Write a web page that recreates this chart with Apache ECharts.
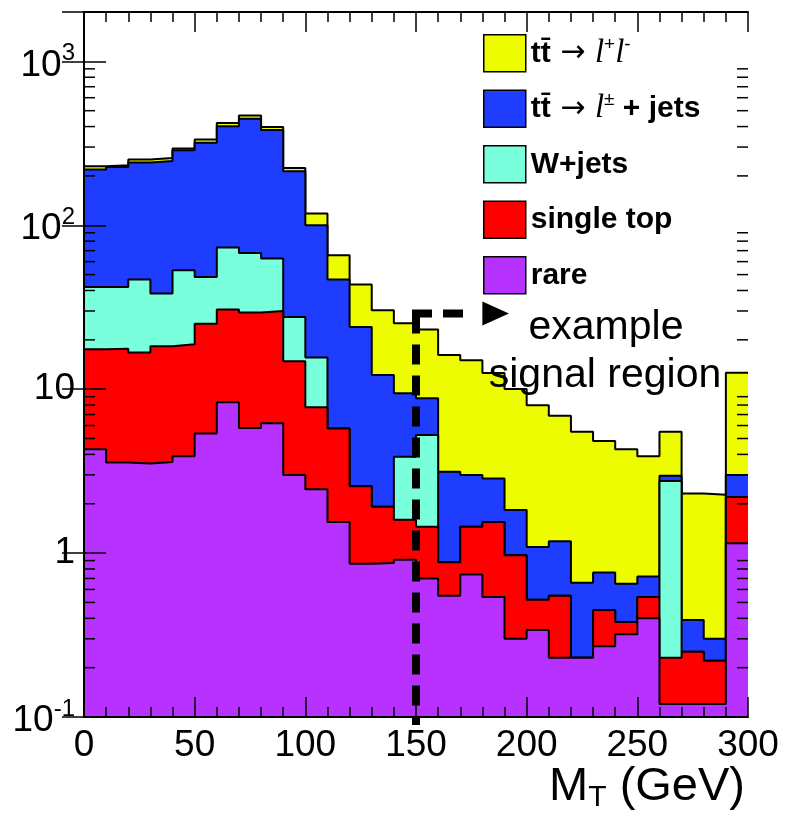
<!DOCTYPE html>
<html>
<head>
<meta charset="utf-8">
<script src="https://cdn.jsdelivr.net/npm/echarts@6/dist/echarts.min.js"></script>
<style>
  html, body { margin: 0; padding: 0; background: #fff; }
  #chart { width: 785px; height: 815px; }
</style>
</head>
<body>
<div id="chart"></div>
<script>
// Transverse mass M_T, 10 GeV bins from 0 to 300 GeV (lower bin edges)
const binLow = [0, 10, 20, 30, 40, 50, 60, 70, 80, 90,
                100, 110, 120, 130, 140, 150, 160, 170, 180, 190,
                200, 210, 220, 230, 240, 250, 260, 270, 280, 290];
const binUpper = 300;

// Expected events per bin for each process
const rare      = [4.3, 3.57, 3.52, 3.6, 3.9, 5.37, 8.33, 5.8, 6.2, 2.99,
                   2.45, 1.55, 0.86, 0.87, 0.91, 0.70, 0.55, 0.74, 0.54, 0.30,
                   0.34, 0.23, 0.23, 0.27, 0.32, 0.40, 0.12, 0.12, 0.12, 1.15];
const singleTop = [13.2, 14.1, 13.2, 14.7, 14.9, 19.7, 22.3, 23.6, 23.8, 11.8,
                   5.3, 4.21, 1.70, 1.05, 0.69, 0.75, 0.33, 0.71, 1.01, 0.67,
                   0.18, 0.32, 0, 0.18, 0.06, 0.14, 0.11, 0.13, 0.10, 1.05];
const wJets     = [24.5, 24.3, 30.0, 20.0, 34.4, 23.3, 42.5, 38.4, 32.7, 12.8,
                   7.85, 0, 0, 0, 2.27, 3.8, 0, 0, 0, 0,
                   0, 0, 0, 0, 0, 0, 2.52, 0, 0, 0];
const ttSemiLep = [177, 185, 195, 208, 234, 270, 329, 379, 319, 186,
                   84.4, 40.9, 21.4, 10.3, 5.58, 3.55, 2.26, 1.54, 1.30, 0.86,
                   0.57, 0.63, 0.43, 0.31, 0.27, 0.18, 0.21, 0.14, 0.08, 0.79];
const ttDiLep   = [10, 5, 10, 11, 7, 15, 19, 21, 16, 10,
                   18, 18.9, 19.5, 18.1, 15.8, 14.3, 13.0, 12.0, 9.7, 8.2,
                   6.9, 5.7, 4.84, 4.06, 3.65, 3.18, 2.54, 1.92, 1.97, 9.6];

// Axis ranges
const xMin = 0, xMax = 300;
const yMin = 0.1, yMax = 2000;

// Signal-region marker
const cutValue = 150;   // M_T threshold
const arrowLevel = 29;  // height of the horizontal arm
const armEnd = 176;
const arrowBase = 180;
const arrowTip = 192;

const FONT = '"Liberation Sans", Arial, Helvetica, sans-serif';

// Processes, bottom of the stack first
const processes = [
  { key: 'rare',  values: rare,      color: '#b832ff' },
  { key: 'stop',  values: singleTop, color: '#ff0000' },
  { key: 'wjets', values: wJets,     color: '#7affdc' },
  { key: 'ttlj',  values: ttSemiLep, color: '#1f3dff' },
  { key: 'ttll',  values: ttDiLep,   color: '#eefc00' }
];

const legendText = {
  ttll:  '{b|tt\u0304}{ar| \u2192 }{i|l}{sup|+}{i|l}{sup|-}',
  ttlj:  '{b|tt\u0304}{ar| \u2192 }{i|l}{sup|\u00b1}{b| + jets}',
  wjets: '{b|W+jets}',
  stop:  '{b|single top}',
  rare:  '{b|rare}'
};

// Running sums: each process is drawn as the cumulative histogram up to it
let running = binLow.map(() => 0);
processes.forEach(p => {
  running = running.map((s, i) => s + p.values[i]);
  p.cumulative = running.slice();
});

function stepPoints(vals) {
  const pts = binLow.map((x, i) => [x, vals[i]]);
  pts.push([binUpper, vals[vals.length - 1]]);
  return pts;
}

// Total first, smaller stacks painted over it
const drawOrder = processes.slice().reverse();
const histSeries = drawOrder.map((p, k) => ({
  type: 'line',
  name: p.key,
  data: stepPoints(p.cumulative),
  step: 'end',
  symbol: 'none',
  silent: true,
  z: 2 + k,
  lineStyle: { color: '#000', width: 2 },
  itemStyle: { color: p.color },
  areaStyle: { color: p.color, opacity: 1, origin: 'start' }
}));

// Log minor ticks (2..9 per decade) on left and right frame edges
const minorTickValues = [];
for (let e = -1; e <= 3; e++) {
  for (let m = 2; m <= 9; m++) {
    const v = m * Math.pow(10, e);
    if (v > yMin && v < yMax) minorTickValues.push(v);
  }
}

const minorTickSeries = {
  type: 'custom',
  silent: true,
  z: 40,
  data: minorTickValues.map(v => [xMin, v]),
  renderItem: function (params, api) {
    const v = api.value(1);
    const l = api.coord([xMin, v]);
    const r = api.coord([xMax, v]);
    const len = 11;
    return {
      type: 'group',
      children: [
        { type: 'line', shape: { x1: l[0], y1: l[1], x2: l[0] + len, y2: l[1] },
          style: { stroke: '#000', lineWidth: 1.5 } },
        { type: 'line', shape: { x1: r[0], y1: r[1], x2: r[0] - len, y2: r[1] },
          style: { stroke: '#000', lineWidth: 1.5 } }
      ]
    };
  }
};

const markerSeries = {
  type: 'custom',
  silent: true,
  z: 30,
  data: [[cutValue, arrowLevel]],
  renderItem: function (params, api) {
    const corner = api.coord([cutValue, arrowLevel]);
    const bottom = api.coord([cutValue, yMin]);
    const end = api.coord([armEnd, arrowLevel]);
    const base = api.coord([arrowBase, arrowLevel]);
    const tip = api.coord([arrowTip, arrowLevel]);
    const dashStyle = { stroke: '#000', lineWidth: 8, lineDash: [20, 11], fill: null };
    return {
      type: 'group',
      children: [
        { type: 'polyline', shape: { points: [corner, [bottom[0], bottom[1] + 8]] }, style: dashStyle },
        { type: 'polyline', shape: { points: [[corner[0] - 4, corner[1]], end] }, style: dashStyle },
        { type: 'polygon',
          shape: { points: [[base[0], base[1] - 12], [base[0], base[1] + 12], [tip[0], tip[1]]] },
          style: { fill: '#000' } }
      ]
    };
  }
};

function yLabel(value) {
  const e = Math.round(Math.log10(value));
  if (Math.abs(value - Math.pow(10, e)) / value > 1e-6) return '';
  if (e === 0) return '{n|1}';
  if (e === 1) return '{n|10}';
  return '{np|10}{sup|' + e + '}';
}

const yRich = {
  n:   { fontSize: 37, fontFamily: FONT, color: '#000', lineHeight: 40 },
  np:  { fontSize: 37, fontFamily: FONT, color: '#000', lineHeight: 40, padding: [8, 0, 0, 0] },
  sup: { fontSize: 24, fontFamily: FONT, color: '#000', lineHeight: 24, verticalAlign: 'top' }
};

const xAxisBase = {
  type: 'value', min: xMin, max: xMax, interval: 50, z: 40,
  axisLine: { show: true, lineStyle: { color: '#000', width: 2 } },
  axisTick: { show: true, inside: true, length: 20, lineStyle: { color: '#000', width: 1.5 } },
  minorTick: { show: true, splitNumber: 5, length: 10, lineStyle: { color: '#000', width: 1.5 } },
  splitLine: { show: false },
  minorSplitLine: { show: false }
};

const yAxisBase = {
  type: 'log', logBase: 10, min: yMin, max: yMax, z: 40,
  axisLine: { show: true, lineStyle: { color: '#000', width: 2 } },
  axisTick: { show: true, inside: true, length: 22, lineStyle: { color: '#000', width: 1.5 } },
  splitLine: { show: false }
};

const chart = echarts.init(document.getElementById('chart'), null, { renderer: 'canvas' });

chart.setOption({
  animation: false,
  backgroundColor: '#fff',
  grid: { left: 84, right: 37, top: 12, bottom: 98, containLabel: false },
  xAxis: [
    Object.assign({}, xAxisBase, {
      position: 'bottom',
      axisLabel: { show: true, margin: 10, fontSize: 37, fontFamily: FONT, color: '#000' }
    }),
    Object.assign({}, xAxisBase, { position: 'top', axisLabel: { show: false } })
  ],
  yAxis: [
    Object.assign({}, yAxisBase, {
      position: 'left',
      axisLabel: { show: true, margin: 9, formatter: yLabel, rich: yRich, color: '#000' }
    }),
    Object.assign({}, yAxisBase, { position: 'right', axisLabel: { show: false } })
  ],
  legend: {
    show: true,
    orient: 'vertical',
    left: 478,
    top: 29,
    itemWidth: 42,
    itemHeight: 37,
    itemGap: 17,
    icon: 'rect',
    selectedMode: false,
    data: processes.slice().reverse().map(p => p.key),
    itemStyle: { borderColor: '#000', borderWidth: 1.5 },
    formatter: name => legendText[name],
    textStyle: {
      fontSize: 30, fontWeight: 'bold', fontFamily: FONT, color: '#000',
      rich: {
        b:   { fontSize: 30, fontWeight: 'bold', fontFamily: FONT, color: '#000', lineHeight: 36 },
        ar:  { fontSize: 30, fontWeight: 'normal', fontFamily: '"DejaVu Sans", sans-serif', color: '#000', lineHeight: 36 },
        i:   { fontSize: 33, fontWeight: 'normal', fontStyle: 'italic', fontFamily: '"Liberation Serif", "Times New Roman", serif', color: '#000', lineHeight: 36 },
        sup: { fontSize: 19, fontWeight: 'normal', fontFamily: FONT, color: '#000', lineHeight: 20, verticalAlign: 'top' }
      }
    }
  },
  graphic: [
    {
      type: 'text', right: 40, top: 764, z: 50,
      style: {
        text: '{m|M}{s|T}{m| (GeV)}',
        rich: {
          m: { fontSize: 47, fontFamily: FONT, fill: '#000', lineHeight: 50 },
          s: { fontSize: 30, fontFamily: FONT, fill: '#000', lineHeight: 30, verticalAlign: 'bottom' }
        }
      }
    },
    {
      type: 'text', x: 606, y: 328, z: 50,
      style: { text: 'example', font: '41px ' + FONT, fill: '#000', textAlign: 'center', textVerticalAlign: 'middle' }
    },
    {
      type: 'text', x: 605, y: 376, z: 50,
      style: { text: 'signal region', font: '41px ' + FONT, fill: '#000', textAlign: 'center', textVerticalAlign: 'middle' }
    }
  ],
  series: histSeries.concat([markerSeries, minorTickSeries])
});
</script>
</body>
</html>
